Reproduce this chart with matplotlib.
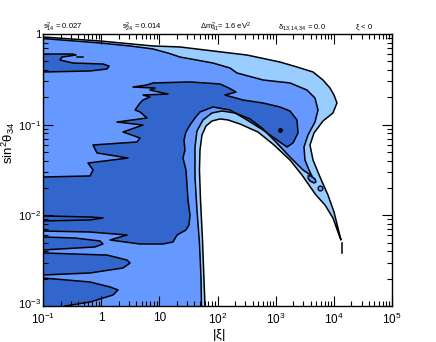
import numpy as np
import matplotlib
matplotlib.use('Agg')
import matplotlib.pyplot as plt
import matplotlib.transforms as mtrans
from matplotlib.ticker import LogLocator, NullFormatter

plt.rcParams['font.family'] = ['Liberation Sans', 'DejaVu Sans']
plt.rcParams['mathtext.fontset'] = 'custom'
plt.rcParams['mathtext.rm'] = 'Liberation Sans'
plt.rcParams['mathtext.it'] = 'Liberation Sans:italic'
plt.rcParams['mathtext.bf'] = 'Liberation Sans:bold'

# ---- contour boundaries, log10(|xi|) and log10(sin^2 theta34) ----
# outermost contour (light region edge): from the top-left, round the tail tip, back over the arch to the bottom
outer_lx = [-1.0, -0.020, 0.891, 1.355, 1.922, 2.507, 3.074, 3.367, 3.642, 3.813, 3.934, 4.003, 4.054,
            3.985, 3.813, 3.659, 3.590, 3.642, 3.762, 3.899, 4.003, 4.071, 4.123,
            4.071, 3.985, 3.848, 3.693, 3.607, 3.452, 3.246, 2.971, 2.696, 2.387, 2.180, 2.043,
            1.905, 1.802, 1.733, 1.699, 1.690, 1.708, 1.742, 1.768, 1.785]
outer_ly = [-0.033, -0.077, -0.132, -0.143, -0.187, -0.232, -0.309, -0.364, -0.419, -0.507, -0.596, -0.673, -0.761,
            -0.871, -0.960, -1.092, -1.224, -1.390, -1.577, -1.776, -1.963, -2.140, -2.272,
            -2.184, -2.029, -1.886, -1.776, -1.698, -1.555, -1.390, -1.224, -1.081, -0.993, -0.948, -0.937,
            -0.960, -1.015, -1.114, -1.279, -1.500, -1.831, -2.272, -2.713, -3.0]

# middle contour (medium region edge)
mid_lx = [-1.0, -0.020, 0.496, 0.891, 1.149, 1.355, 1.922, 2.215, 2.335, 2.782, 3.246, 3.538, 3.676, 3.728,
          3.676, 3.556, 3.487, 3.504, 3.573, 3.624,
          3.470, 3.246, 2.988, 2.765, 2.559, 2.301, 2.077, 1.905, 1.751, 1.647, 1.613, 1.613, 1.647,
          1.690, 1.716, 1.725]
mid_ly = [-0.050, -0.099, -0.132, -0.165, -0.210, -0.254, -0.320, -0.375, -0.430, -0.507, -0.540, -0.618, -0.706, -0.838,
          -0.971, -1.114, -1.246, -1.390, -1.500, -1.566,
          -1.500, -1.357, -1.180, -1.037, -0.937, -0.871, -0.849, -0.871, -0.948, -1.070, -1.246, -1.577, -1.941,
          -2.305, -2.680, -3.0]

# inner contour (dark region): main band, from the left edge round to the left edge
dark_lx = [-1.0, -0.192, -0.140, -0.226, 0.461, -0.072, -0.140, 0.616, 0.668, 0.375, 0.719, 0.272, 0.788,
           0.668, 0.582, 0.668, 0.719, 0.839, 0.719, 1.149, 0.839, 0.925, 0.547, 0.788, 0.891, 1.527,
           2.043, 2.198, 2.318, 2.129, 2.438, 2.782, 3.074, 3.246, 3.367, 3.384, 3.298, 3.195, 3.023,
           2.782, 2.507, 2.215, 1.922, 1.699, 1.613, 1.527, 1.458, 1.424, 1.441, 1.407, 1.458, 1.476,
           1.493, 1.527, 1.510, 1.458, 1.304, 1.235, 1.063, 0.668, 0.152, 0.444, -0.192, -1.0]
dark_ly = [-1.577, -1.566, -1.500, -1.423, -1.368, -1.312, -1.224, -1.191, -1.147, -1.081, -1.004, -0.971, -0.926,
           -0.860, -0.838, -0.761, -0.728, -0.695, -0.673, -0.662, -0.618, -0.596, -0.585, -0.562, -0.540, -0.529,
           -0.551, -0.596, -0.640, -0.673, -0.728, -0.761, -0.805, -0.849, -0.948, -1.092, -1.202, -1.246, -1.169,
           -1.059, -0.948, -0.838, -0.805, -0.860, -0.926, -1.004, -1.081, -1.169, -1.279, -1.368, -1.500, -1.665,
           -1.831, -1.996, -2.107, -2.162, -2.217, -2.294, -2.316, -2.316, -2.272, -2.217, -2.184, -2.173]

# dark islands along the left edge
top_lx = [-1.0, -0.484, -0.433, -0.673, -0.708, -0.484, 0.031, 0.135, 0.100, -0.192, -1.0]
top_ly = [-0.221, -0.221, -0.232, -0.254, -0.287, -0.320, -0.331, -0.353, -0.386, -0.408, -0.419]
lobeA_lx = [-1.0, -0.192, 0.031, -0.192, -1.0]
lobeA_ly = [-2.007, -2.018, -2.029, -2.051, -2.062]
lobeB_lx = [-1.0, -0.450, -0.020, 0.031, -0.106, -1.0]
lobeB_ly = [-2.239, -2.250, -2.283, -2.316, -2.349, -2.382]
lobeC_lx = [-1.0, 0.100, 0.444, 0.496, 0.375, -0.192, -1.0]
lobeC_ly = [-2.415, -2.438, -2.493, -2.526, -2.581, -2.636, -2.658]
lobeD_lx = [-1.0, -0.192, 0.152, 0.289, 0.203, -0.192, -0.622]
lobeD_ly = [-2.691, -2.735, -2.790, -2.823, -2.879, -2.956, -3.0]

# small closed contours in the tail
blob_lx = [3.556, 3.607, 3.676, 3.693, 3.659, 3.590, 3.556]
blob_ly = [-1.566, -1.566, -1.599, -1.632, -1.643, -1.621, -1.588]
ring_lx = [3.762]
ring_ly = [-1.704]
tipseg_lx = [4.14, 4.14]
tipseg_ly = [-2.305, -2.415]
sliver_lx = [-0.416, -0.312]
sliver_ly = [-0.254, -0.254]

# best fit point
best_lx = [3.074]
best_ly = [-1.059]

x_ticks = [1e-1, 1, 10, 1e2, 1e3, 1e4, 1e5]
x_ticklabels = [r'$10^{-1}$', '1', '10', r'$10^{2}$', r'$10^{3}$', r'$10^{4}$', r'$10^{5}$']
y_ticks = [1e-3, 1e-2, 1e-1, 1]
y_ticklabels = [r'$10^{-3}$', r'$10^{-2}$', r'$10^{-1}$', '1']

header = [r'$\mathrm{s^2_{14}}$ = 0.027', r'$\mathrm{s^2_{24}}$ = 0.014',
          r'$\mathrm{\Delta m^2_{41}}$= 1.6 eV$^2$', r'$\mathrm{\delta_{13,14,34}}$ = 0.0', r'$\mathrm{\xi}$ < 0']
header_px = [43, 122, 200, 278, 355]

c_light = '#99ccff'
c_mid = '#6699ff'
c_dark = '#3366cc'
LW = 1.1

def p(a):
    return 10 ** np.asarray(a, dtype=float)

W, H = 436, 342
fig = plt.figure(figsize=(W / 100, H / 100), dpi=100)
ax = fig.add_axes([43 / W, 1 - 306 / H, (392 - 43) / W, (306 - 34) / H])
ax.set_xscale('log')
ax.set_yscale('log')
ax.set_xlim(1e-1, 1e5)
ax.set_ylim(1e-3, 1)

xmin, ymin = -1.0, -3.0

def region(lx, ly, color, close_pts):
    fx = list(lx) + [c[0] for c in close_pts]
    fy = list(ly) + [c[1] for c in close_pts]
    ax.fill(p(fx), p(fy), color=color, lw=0, zorder=1)
    ax.plot(p(lx), p(ly), color='k', lw=LW, zorder=3, solid_joinstyle='round')

region(outer_lx, outer_ly, c_light, [(xmin, ymin)])
region(mid_lx, mid_ly, c_mid, [(xmin, ymin)])
region(dark_lx, dark_ly, c_dark, [])
region(top_lx, top_ly, c_dark, [])
region(lobeA_lx, lobeA_ly, c_dark, [])
region(lobeB_lx, lobeB_ly, c_dark, [])
region(lobeC_lx, lobeC_ly, c_dark, [])
region(lobeD_lx, lobeD_ly, c_dark, [(xmin, ymin)])
region(blob_lx, blob_ly, c_mid, [])
ax.plot(p(ring_lx), p(ring_ly), 'o', ms=3.5, mfc=c_mid, mec='k', mew=0.9, zorder=4)
ax.plot(p(tipseg_lx), p(tipseg_ly), color='k', lw=LW, zorder=4)
ax.plot(p(sliver_lx), p(sliver_ly), color='k', lw=LW, zorder=4)
ax.plot(p(best_lx), p(best_ly), 'o', ms=2.5, color='k', zorder=5)

ax.set_xticks(x_ticks, x_ticklabels)
ax.set_yticks(y_ticks, y_ticklabels)
ax.xaxis.set_minor_locator(LogLocator(base=10, subs=np.arange(2, 10)))
ax.yaxis.set_minor_locator(LogLocator(base=10, subs=np.arange(2, 10)))
ax.xaxis.set_minor_formatter(NullFormatter())
ax.yaxis.set_minor_formatter(NullFormatter())
ax.tick_params(which='both', direction='in', top=True, right=True, width=0.8, color='k')
ax.tick_params(which='major', length=7, labelsize=8.5)
ax.tick_params(axis='y', which='major', labelsize=8)
ax.tick_params(axis='x', which='major', pad=4.5)
ax.tick_params(axis='y', which='major', pad=1.5)
ax.tick_params(which='minor', length=3.5)
for s in ax.spines.values():
    s.set_linewidth(1.0)
    s.set_zorder(6)

# nudge the lowest y label up a little so it clears the first x label
lbl = ax.get_yticklabels()[0]
lbl.set_transform(lbl.get_transform() + mtrans.ScaledTranslation(0, 3 / 100, fig.dpi_scale_trans))

fig.text(219 / W, 1 - 335 / H, r'$\mathrm{|\xi|}$', ha='center', va='center', fontsize=9.5)
fig.text(8 / W, 1 - 143 / H, r'$\mathrm{sin^2\theta_{34}}$', ha='center', va='center', rotation=90, fontsize=9.5)

for t, xp in zip(header, header_px):
    fig.text(xp / W, 1 - 29 / H, t, ha='left', va='baseline', fontsize=5.5)

fig.savefig('out.png', dpi=100)
